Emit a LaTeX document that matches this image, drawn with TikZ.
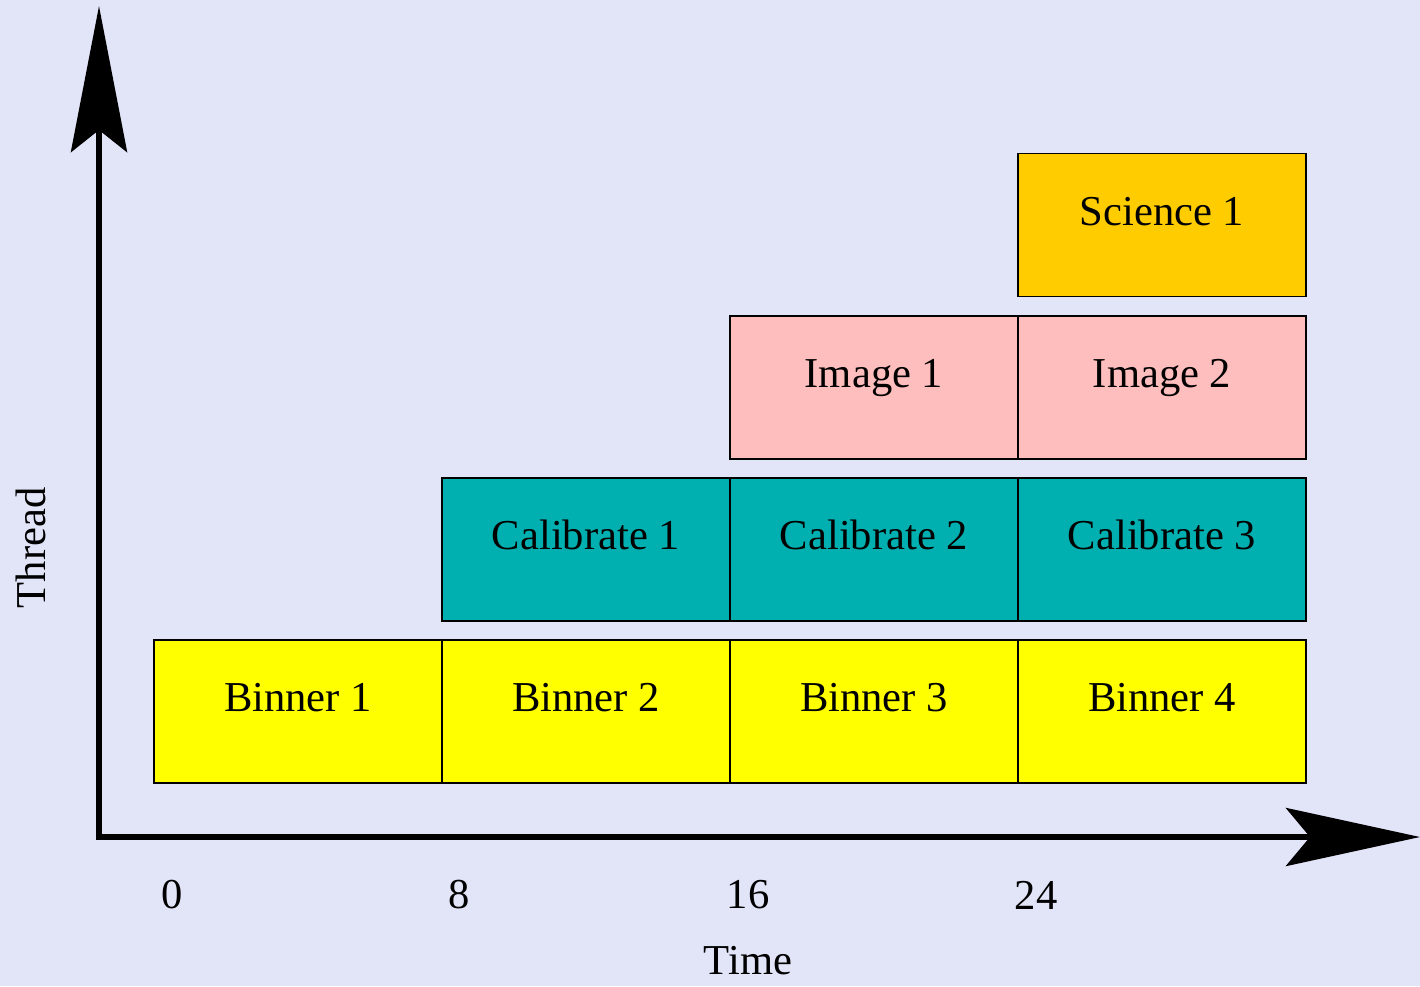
\documentclass[tikz,border=0pt]{standalone}
\usepackage{fontspec}
\setmainfont{Liberation Serif}
\usetikzlibrary{arrows.meta}

\definecolor{bgcol}{RGB}{226,228,248}
\definecolor{binnercol}{RGB}{255,255,0}
\definecolor{calibcol}{RGB}{0,176,176}
\definecolor{imagecol}{RGB}{255,190,190}
\definecolor{sciencecol}{RGB}{255,204,0}

\tikzset{
  task/.style={draw=black, line width=0.7pt, minimum width=144pt, minimum height=71.5pt,
    inner sep=0pt, outer sep=0pt, text height=15pt, text depth=15pt,
    font=\fontsize{21.3}{25}\selectfont},
  axisline/.style={line width=3pt, line join=miter,
    {Stealth[length=73pt, width=28pt, inset=11pt]}-{Stealth[length=67pt, width=29pt, inset=12pt]}},
  axislabel/.style={font=\fontsize{21.3}{25}\selectfont}
}

\begin{document}
\begin{tikzpicture}[x=0.5pt, y=-0.5pt]
        % Background
        \fill[bgcol] (0,0) rectangle (1420,986);
        \useasboundingbox (0,0) rectangle (1420,986);

        % Axes
        \coordinate (origin) at (99,837);
        \coordinate (ytip) at (99,6);
        \coordinate (xtip) at (1420,837);
        \draw[axisline] (ytip) -- (origin) -- (xtip);

        % Binner thread
        \node[task, fill=binnercol] (binner1) at (298,711.5) {Binner 1};
        \node[task, fill=binnercol] (binner2) at (586,711.5) {Binner 2};
        \node[task, fill=binnercol] (binner3) at (874,711.5) {Binner 3};
        \node[task, fill=binnercol] (binner4) at (1162,711.5) {Binner 4};

        % Calibrate thread
        \node[task, fill=calibcol] (calib1) at (586,549.5) {Calibrate 1};
        \node[task, fill=calibcol] (calib2) at (874,549.5) {Calibrate 2};
        \node[task, fill=calibcol] (calib3) at (1162,549.5) {Calibrate 3};

        % Image thread
        \node[task, fill=imagecol] (image1) at (874,387.5) {Image 1};
        \node[task, fill=imagecol] (image2) at (1162,387.5) {Image 2};

        % Science thread
        \node[task, fill=sciencecol] (science1) at (1162,225) {Science 1};

        % Time ticks and labels
        \node[axislabel] (t0) at (172,895) {0};
        \node[axislabel] (t8) at (459,895) {8};
        \node[axislabel] (t16) at (748,895) {16};
        \node[axislabel] (t24) at (1036,895) {24};
        \node[axislabel] (time) at (748,961) {Time};
        \node[axislabel, rotate=90] (thread) at (31,548) {Thread};
    \end{tikzpicture}
\end{document}
